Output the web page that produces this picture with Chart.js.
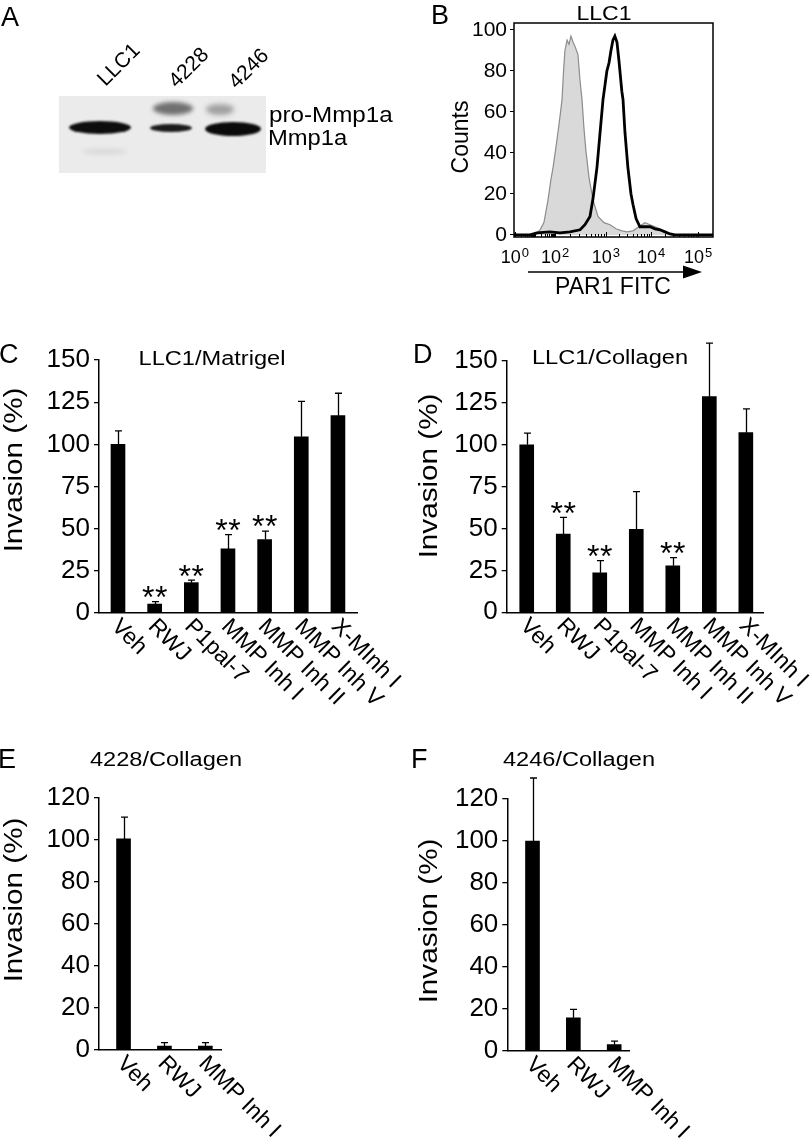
<!DOCTYPE html>
<html>
<head>
<meta charset="utf-8">
<script src="https://cdn.jsdelivr.net/npm/chart.js@4.4.1/dist/chart.umd.min.js"></script>
<style>
html, body { margin: 0; padding: 0; background: #fff; }
body { width: 812px; height: 1143px; position: relative; overflow: hidden;
       font-family: "Liberation Sans", Arial, Helvetica, sans-serif; color: #000; }
.box { position: absolute; }
.t { position: absolute; line-height: 1; white-space: nowrap; }
.letter { font-size: 27px; }
.ttl { font-size: 20px; text-align: center; width: 200px; transform: scaleX(1.18); }
.yt { font-size: 26px; transform: translate(-50%, -50%) rotate(-90deg) scaleX(1.14); }
.lane { font-size: 21px; transform: translate(-50%, -50%) rotate(-45deg); }
.blot { position: absolute; left: 59px; top: 96px; width: 207px; height: 77px; background: #ebebeb; overflow: hidden; }
.band { position: absolute; border-radius: 50%; }
</style>
</head>
<body>

<!-- A: western blot -->
<div class="blot">
  <div class="band" style="left:10px;top:25px;width:62px;height:13px;background:#0d0d0d;filter:blur(1.2px)"></div>
  <div class="band" style="left:91px;top:28px;width:42px;height:8px;background:#1a1a1a;filter:blur(1px)"></div>
  <div class="band" style="left:94px;top:6px;width:40px;height:13px;background:#707070;filter:blur(2px)"></div>
  <div class="band" style="left:146px;top:26px;width:56px;height:14px;background:#0a0a0a;filter:blur(1.2px)"></div>
  <div class="band" style="left:147px;top:8px;width:28px;height:11px;background:#a0a0a0;filter:blur(2.5px)"></div>
  <div class="band" style="left:23px;top:53px;width:45px;height:5px;background:#d6d6d6;filter:blur(2px)"></div>
</div>

<div class="box" style="left:440px;top:0;width:300px;height:275px"><canvas id="chartB" width="300" height="275"></canvas></div>
<div class="box" style="left:0;top:330px;width:405px;height:400px"><canvas id="chartC" width="405" height="400"></canvas></div>
<div class="box" style="left:413px;top:330px;width:399px;height:400px"><canvas id="chartD" width="399" height="400"></canvas></div>
<div class="box" style="left:0;top:770px;width:400px;height:373px"><canvas id="chartE" width="400" height="373"></canvas></div>
<div class="box" style="left:413px;top:770px;width:399px;height:373px"><canvas id="chartF" width="399" height="373"></canvas></div>

<svg class="box" style="left:0;top:0" width="812" height="300">
  <line x1="528" y1="272" x2="686" y2="272" stroke="#000" stroke-width="1.3"/>
  <polygon points="683,265.5 702,272 683,278.5" fill="#000"/>
</svg>

<div class="t letter" style="left:1px;top:4px">A</div>
<div class="t letter" style="left:431px;top:2px">B</div>
<div class="t letter" style="left:-1px;top:341px">C</div>
<div class="t letter" style="left:413px;top:341px">D</div>
<div class="t letter" style="left:-2px;top:746px">E</div>
<div class="t letter" style="left:411px;top:746px">F</div>

<div class="t lane" style="left:118px;top:64px">LLC1</div>
<div class="t lane" style="left:188px;top:67px">4228</div>
<div class="t lane" style="left:248px;top:68px">4246</div>
<div class="t" style="left:269px;top:104px;font-size:22px;transform:scaleX(1.1);transform-origin:0 0">pro-Mmp1a</div>
<div class="t" style="left:268px;top:127px;font-size:22px;transform:scaleX(1.08);transform-origin:0 0">Mmp1a</div>

<div class="t" style="left:554px;top:2px;width:100px;text-align:center;font-size:21px;transform:scaleX(1.1)">LLC1</div>
<div class="t yt" style="left:460px;top:137px;font-size:23px;transform:translate(-50%,-50%) rotate(-90deg)">Counts</div>
<div class="t" style="left:553px;top:275px;width:120px;text-align:center;font-size:23px">PAR1 FITC</div>

<div class="t ttl" style="left:112px;top:348px">LLC1/Matrigel</div>
<div class="t ttl" style="left:510px;top:347px">LLC1/Collagen</div>
<div class="t ttl" style="left:66px;top:749px">4228/Collagen</div>
<div class="t ttl" style="left:479px;top:749px">4246/Collagen</div>

<div class="t yt" style="left:13px;top:470px">Invasion (%)</div>
<div class="t yt" style="left:428px;top:476px">Invasion (%)</div>
<div class="t yt" style="left:13px;top:900px">Invasion (%)</div>
<div class="t yt" style="left:428px;top:921px">Invasion (%)</div>

<script>
const FONT = '"Liberation Sans", Arial, Helvetica, sans-serif';

// B: PAR1 flow histogram, channel (0-1024) vs counts (% of mode)
const isoChannel = [0, 82, 113, 134, 154, 175, 190, 201, 216, 226, 237, 247, 255, 262, 273, 283, 293, 304, 314, 329,
                    340, 350, 360, 370, 386, 407, 432, 463, 494, 525, 556, 581, 612, 643, 674, 700, 726, 751, 777, 803, 828, 1024];
const isoCounts  = [0, 0, 0.5, 2.5, 6, 17, 27, 33, 43, 50, 58, 66, 80, 90, 95, 93, 97, 94, 92, 88,
                    75, 66, 52, 41, 28, 17, 9, 6, 5, 3, 2, 1.5, 2, 4, 6, 5, 4, 3, 1.5, 0.3, 0, 0];
const par1Channel = [0, 82, 118, 185, 237, 288, 340, 365, 391, 407, 427, 443, 458, 468, 478, 489, 499, 509, 519, 530,
                     540, 545, 555, 561, 571, 586, 602, 612, 628, 648, 674, 700, 726, 751, 777, 803, 828, 1024];
const par1Counts  = [0, 0, 1, 1.5, 1, 1.5, 2.5, 5, 9, 18, 33, 50, 66, 73, 80, 84, 90, 95, 97, 94,
                     85, 80, 70, 66, 50, 33, 20, 15, 8, 4, 4, 4, 3, 2.5, 1.5, 0.5, 0, 0];
const decadeExp = ['0', '2', '3', '4', '5'];
const decadeChannel = [5, 211, 473, 705, 947];
const countTicks = [0, 20, 40, 60, 80, 100];

// C-F: invasion assays
const treatments7 = ['Veh', 'RWJ', 'P1pal-7', 'MMP Inh I', 'MMP Inh II', 'MMP Inh V', 'X-MInh I'];
const matrigelMean = [100, 5.3, 18, 38, 43.6, 104.5, 117];
const matrigelErr  = [8, 1.4, 1.5, 8.5, 5, 21, 13.3];
const matrigelSig  = [false, true, true, true, true, false, false];
const collagenMean = [100, 46.7, 23.6, 49.5, 27.8, 128.7, 107.2];
const collagenErr  = [7, 10, 7.2, 22.5, 4.8, 32, 14.2];
const collagenSig  = [false, true, true, false, true, false, false];
const treatments3 = ['Veh', 'RWJ', 'MMP Inh I'];
const mean4228 = [100.4, 1.9, 1.9];
const err4228  = [10.4, 1.6, 1.6];
const mean4246 = [100, 15.8, 3];
const err4246  = [30, 4, 1.7];

Chart.defaults.color = '#000';
Chart.defaults.font.family = FONT;

// histogram frame, decade ticks and labels
const flowFrame = {
  id: 'flowFrame',
  afterDraw(chart) {
    const {ctx, chartArea: a, scales: {x}} = chart;
    ctx.save();
    ctx.strokeStyle = '#000';
    ctx.lineWidth = 1.5;
    ctx.strokeRect(a.left, a.top, a.right - a.left, a.bottom - a.top);
    ctx.lineWidth = 1;
    const tick = (ch, len) => {
      const px = Math.round(x.getPixelForValue(ch)) + 0.5;
      ctx.beginPath(); ctx.moveTo(px, a.bottom); ctx.lineTo(px, a.bottom - len); ctx.stroke();
    };
    // minor ticks, log spaced inside each decade (10^1 sits midway in the compressed low end)
    const edges = [decadeChannel[0], (decadeChannel[0] + decadeChannel[1]) / 2].concat(decadeChannel.slice(1));
    for (let d = 0; d < edges.length - 1; d++) {
      for (let k = 2; k <= 9; k++) tick(edges[d] + Math.log10(k) * (edges[d + 1] - edges[d]), 3);
      tick(edges[d], 5);
    }
    tick(edges[edges.length - 1], 5);
    // decade labels with superscripts, centred on the tick
    ctx.fillStyle = '#000';
    ctx.textBaseline = 'alphabetic';
    ctx.textAlign = 'left';
    decadeChannel.forEach((ch, i) => {
      const px = x.getPixelForValue(ch);
      ctx.font = '18px ' + FONT;
      const wBase = ctx.measureText('10').width;
      ctx.font = '13px ' + FONT;
      const wExp = ctx.measureText(decadeExp[i]).width;
      const x0 = px - (wBase + wExp + 1) / 2;
      ctx.font = '18px ' + FONT;
      ctx.fillText('10', x0, a.bottom + 26);
      ctx.font = '13px ' + FONT;
      ctx.fillText(decadeExp[i], x0 + wBase + 1, a.bottom + 19.5);
    });
    ctx.restore();
  }
};

new Chart(document.getElementById('chartB'), {
  type: 'line',
  data: {
    datasets: [{
      data: par1Channel.map((c, i) => ({x: c, y: par1Counts[i]})),
      borderColor: '#000', borderWidth: 2.8, fill: false, pointRadius: 0, tension: 0
    }, {
      data: isoChannel.map((c, i) => ({x: c, y: isoCounts[i]})),
      borderColor: '#8c8c8c', borderWidth: 1.2, backgroundColor: '#d9d9d9', fill: 'origin', pointRadius: 0, tension: 0
    }]
  },
  options: {
    responsive: false, animation: false,
    layout: {padding: {top: 23, right: 27, left: 0, bottom: 0}},
    plugins: {legend: {display: false}, tooltip: {enabled: false}},
    scales: {
      x: {type: 'linear', min: 0, max: 1024, ticks: {display: false}, grid: {display: false}, border: {display: false},
          afterFit: s => { s.height = 38; }},
      y: {min: -1, max: 103.4,
          afterBuildTicks: s => { s.ticks = countTicks.map(v => ({value: v})); },
          ticks: {font: {size: 21}, padding: 3},
          grid: {drawOnChartArea: false, color: '#000', tickLength: 4, lineWidth: 1},
          border: {display: false},
          afterFit: s => { s.width = 74; }}
    }
  },
  plugins: [flowFrame]
});

// error bars, significance stars and slanted category labels
function barDecor(labels, means, errs, sig) {
  return {
    id: 'barDecor',
    afterDatasetsDraw(chart) {
      const {ctx, scales: {x, y}, chartArea: a} = chart;
      const meta = chart.getDatasetMeta(0);
      ctx.save();
      ctx.strokeStyle = '#000';
      ctx.fillStyle = '#000';
      ctx.lineWidth = 1.3;
      meta.data.forEach((bar, i) => {
        const top = y.getPixelForValue(means[i] + errs[i]);
        const cx = Math.round(bar.x) + 0.5;
        ctx.beginPath();
        ctx.moveTo(cx, bar.y); ctx.lineTo(cx, top);
        ctx.moveTo(cx - 3.5, top); ctx.lineTo(cx + 3.5, top);
        ctx.stroke();
        if (sig && sig[i]) {
          ctx.font = '32px ' + FONT;
          ctx.textAlign = 'center';
          ctx.textBaseline = 'alphabetic';
          const base = top - 12 + 18.4;
          ctx.fillText('*', bar.x - 6.5, base);
          ctx.fillText('*', bar.x + 6.5, base);
        }
      });
      ctx.font = '23px ' + FONT;
      ctx.textAlign = 'left';
      ctx.textBaseline = 'middle';
      labels.forEach((lab, i) => {
        ctx.save();
        ctx.translate(x.getPixelForValue(i) - 3, a.bottom + 10);
        ctx.rotate(Math.PI / 4);
        ctx.fillText(lab, 0, 0);
        ctx.restore();
      });
      ctx.restore();
    }
  };
}

function invasionChart(id, labels, means, errs, sig, cfg) {
  return new Chart(document.getElementById(id), {
    type: 'bar',
    data: {
      datasets: [{
        data: means.map((v, i) => ({x: i, y: v})),
        backgroundColor: '#000', borderWidth: 0, barThickness: 14
      }]
    },
    options: {
      responsive: false, animation: false,
      layout: {padding: {top: cfg.top, right: cfg.right, left: 0, bottom: 0}},
      plugins: {legend: {display: false}, tooltip: {enabled: false}},
      scales: {
        x: {type: 'linear', min: cfg.xMin, max: cfg.xMax, offset: false,
            ticks: {display: false}, grid: {display: false, offset: false},
            border: {display: true, color: '#000', width: 1.5},
            afterFit: s => { s.height = cfg.xHeight; }},
        y: {min: 0, max: cfg.yMax,
            ticks: {stepSize: cfg.step, font: {size: 26}, padding: 4},
            grid: {drawOnChartArea: false, color: '#000', tickLength: 5, lineWidth: 1.3},
            border: {color: '#000', width: 1.5},
            afterFit: s => { s.width = cfg.yWidth; }}
      }
    },
    plugins: [barDecor(labels, means, errs, sig)]
  });
}

invasionChart('chartC', treatments7, matrigelMean, matrigelErr, matrigelSig,
  {top: 30, right: 48, xHeight: 117, yWidth: 99, xMin: -0.518, xMax: 6.52, yMax: 150, step: 25});
invasionChart('chartD', treatments7, collagenMean, collagenErr, collagenSig,
  {top: 31, right: 49, xHeight: 117.7, yWidth: 93.7, xMin: -0.548, xMax: 6.47, yMax: 150, step: 25});
invasionChart('chartE', treatments3, mean4228, err4228, null,
  {top: 27.7, right: 178.3, xHeight: 93, yWidth: 99, xMin: -0.60, xMax: 2.40, yMax: 120, step: 20});
invasionChart('chartF', treatments3, mean4246, err4246, null,
  {top: 29, right: 182.7, xHeight: 92, yWidth: 94.3, xMin: -0.617, xMax: 2.37, yMax: 120, step: 20});
</script>
</body>
</html>
